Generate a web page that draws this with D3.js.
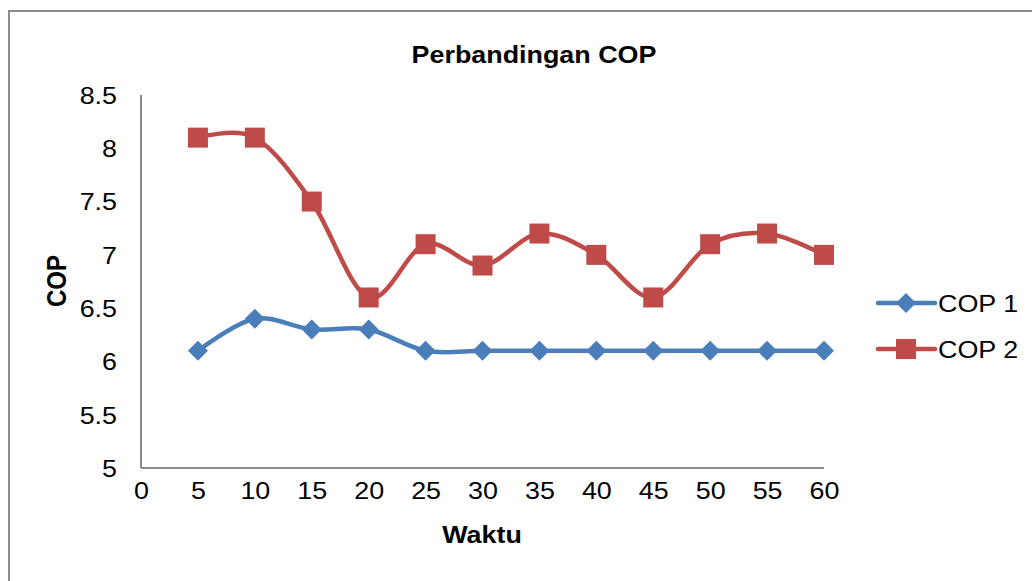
<!DOCTYPE html>
<html><head><meta charset="utf-8">
<script src="https://cdn.jsdelivr.net/npm/d3@7"></script>
<style>body{margin:0;background:#fff}svg{display:block}text{font-family:"Liberation Sans",Arial,sans-serif;fill:#000}</style>
</head><body><svg id="c" width="1032" height="581"></svg>
<script>
const waktu = [5,10,15,20,25,30,35,40,45,50,55,60];
const cop1 = [6.1,6.4,6.3,6.3,6.1,6.1,6.1,6.1,6.1,6.1,6.1,6.1];
const cop2 = [8.1,8.1,7.5,6.6,7.1,6.9,7.2,7.0,6.6,7.1,7.2,7.0];
const xTicks = [0,5,10,15,20,25,30,35,40,45,50,55,60];
const yTicks = [5,5.5,6,6.5,7,7.5,8,8.5];
const seriesNames = ["COP 1","COP 2"];
const colors = ["#4A7EBB","#BE4B48"];

const svg = d3.select("#c");
const SX = 1.12; // horizontal text stretch
svg.append("rect").attr("x",9).attr("y",11).attr("width",1040).attr("height",600)
  .attr("fill","#fff").attr("stroke","#8c8c8c").attr("stroke-width",2);

const x = d3.scaleLinear().domain([0,60]).range([141,824]);
const y = d3.scaleLinear().domain([5,8.5]).range([468,95]);

function txt(px,py,s,opts){
  const g = svg.append("g").attr("transform",`translate(${px},${py})${opts.rot?` rotate(${opts.rot})`:''} scale(${opts.rot?1:SX},${opts.rot?SX:1})`);
  return g.append("text").text(s).attr("font-size",opts.size||24)
    .attr("font-weight",opts.bold?"bold":"normal").attr("text-anchor",opts.anchor||"middle")
    .attr("dominant-baseline",opts.db||"auto");
}

// axes via d3
const yAxis = d3.axisLeft(y).tickValues(yTicks).tickSize(0).tickPadding(24).tickFormat(d3.format("~g"));
const xAxis = d3.axisBottom(x).tickValues(xTicks).tickSize(0).tickPadding(14).tickFormat(d3.format("~g"));
const gy = svg.append("g").attr("transform","translate(141,0)").call(yAxis);
const gx = svg.append("g").attr("transform","translate(0,468)").call(xAxis);
[gy,gx].forEach(g=>{
  g.select(".domain").attr("stroke","#898989").attr("stroke-width",2);
  g.selectAll("text").attr("font-size",24).attr("font-family","Liberation Sans, Arial, sans-serif").attr("fill","#000");
});
gy.selectAll(".tick text").attr("transform",`scale(${SX},1)`).attr("x",-24/SX).attr("dy","0.35em");
gx.selectAll(".tick text").attr("transform",`scale(${SX},1)`).attr("y",14).attr("dy","0.71em");
gy.select(".domain").attr("d","M0,95V468");
gx.select(".domain").attr("d","M141,0H824");

// title & labels
txt(534,63,"Perbandingan COP",{bold:true,size:24});
txt(482,543,"Waktu",{bold:true,size:24});
txt(66,281,"COP",{bold:true,size:24,rot:-90});

const line = d3.line().x((d,i)=>x(waktu[i])).y(d=>y(d)).curve(d3.curveCardinal.tension(0));
const data = [cop1,cop2];
data.forEach((vals,k)=>{
  svg.append("path").datum(vals).attr("d",line).attr("fill","none")
    .attr("stroke",colors[k]).attr("stroke-width",4.5).attr("stroke-linejoin","round");
});
function marker(g,k,cx,cy){
  if(k===0){
    g.append("path").attr("d",`M${cx},${cy-10}L${cx+10},${cy}L${cx},${cy+10}L${cx-10},${cy}Z`).attr("fill",colors[0]);
  } else {
    g.append("rect").attr("x",cx-10).attr("y",cy-10).attr("width",20).attr("height",20).attr("fill",colors[1]);
  }
}
data.forEach((vals,k)=>{
  const g = svg.append("g");
  vals.forEach((v,i)=>marker(g,k,x(waktu[i]),y(v)));
});

// legend
const legY = [303,349];
seriesNames.forEach((n,k)=>{
  svg.append("line").attr("x1",878).attr("x2",935).attr("y1",legY[k]).attr("y2",legY[k])
    .attr("stroke",colors[k]).attr("stroke-width",4.5).attr("stroke-linecap","round");
  marker(svg,k,906,legY[k]);
  txt(938,legY[k]+9,n,{size:24,anchor:"start"});
});
</script></body></html>
